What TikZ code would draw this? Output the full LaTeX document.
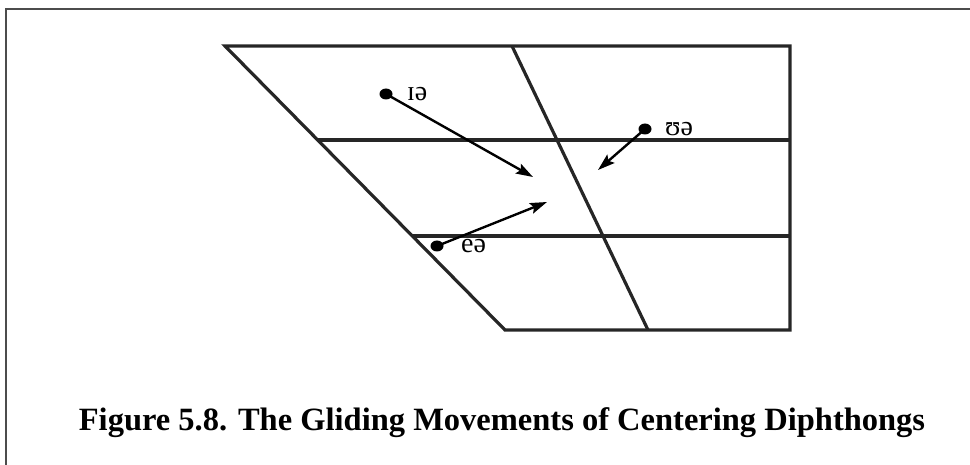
\documentclass[tikz,border=0pt]{standalone}
\usepackage{fontspec}
\setmainfont{Liberation Serif}
\usetikzlibrary{arrows.meta,shapes.geometric}
\begin{document}
\begin{tikzpicture}[x=1pt,y=-1pt,
  chart/.style={line width=3.2pt,black!85,line join=miter},
  frame/.style={line width=2.8pt,black!70},
  dot/.style={ellipse,fill=black,inner sep=0pt,minimum width=13pt,minimum height=11pt},
  glide/.style={line width=2.4pt,-{Stealth[length=17pt,width=11pt,inset=3pt]}},
  lbl/.style={font=\fontsize{28}{28}\selectfont,inner sep=0pt,anchor=west},
  caption/.style={font=\fontsize{32.5}{32.5}\selectfont\bfseries,inner sep=0pt}]
\useasboundingbox (0,0) rectangle (970,465);
% frame
\draw[frame] (6,465) -- (6,9) -- (970,9);
% chart corners
\coordinate (TL) at (225,46);
\coordinate (TR) at (790,46);
\coordinate (BR) at (790,330);
\coordinate (BL) at (505,330);
\coordinate (MT) at (512,46);
\coordinate (MB) at (648,330);
\coordinate (H1L) at (318,140);
\coordinate (H1R) at (790,140);
\coordinate (H2L) at (412,236);
\coordinate (H2R) at (790,236);
\draw[chart] (TL) -- (TR) -- (BR) -- (BL) -- cycle;
\draw[chart] (MT) -- (MB);
\draw[chart] (H1L) -- (H1R);
\draw[chart] (H2L) -- (H2R);
% dots and labels
\node[dot] (d1) at (386,94) {};
\node[dot] (d2) at (645,129) {};
\node[dot] (d3) at (437,246) {};
\node[lbl] (l1) at (407,94) {ɪə};
\node[lbl] (l2) at (665,129) {ʊə};
\node[lbl] (l3) at (461,246) {eə};
\coordinate (t1) at (533,177);
\coordinate (t2) at (598,170);
\coordinate (t3) at (547,202);
\draw[glide] (d1.center) -- (t1);
\draw[glide] (d2.center) -- (t2);
\draw[glide] (d3.center) -- (t3);
% caption
\node[caption] (cap) at (502,423) {Figure 5.8. The Gliding Movements of Centering Diphthongs};
\end{tikzpicture}
\end{document}
